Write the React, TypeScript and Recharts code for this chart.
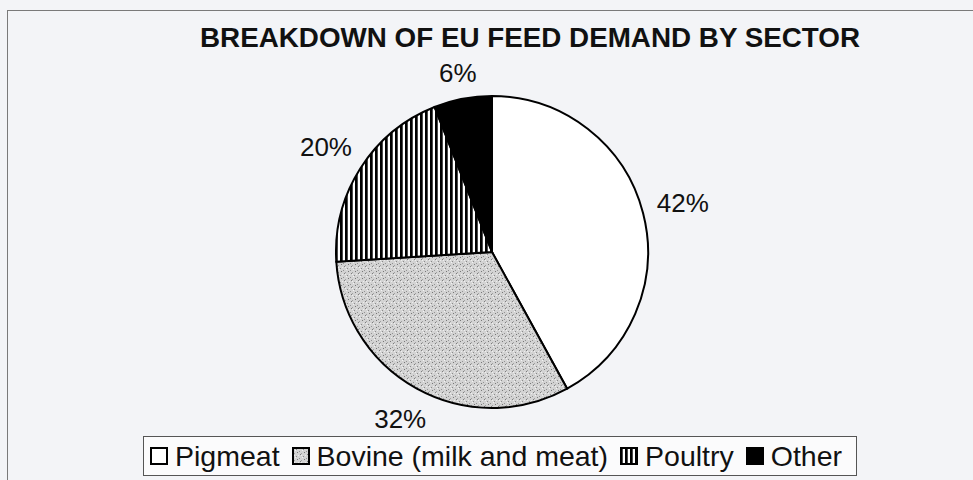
import React from 'react';
import { PieChart, Pie, Cell, Legend } from 'recharts';

// EU feed demand split by livestock sector (share of total, %)
const sectors = ['Pigmeat', 'Bovine (milk and meat)', 'Poultry', 'Other'];
const shares = [42, 32, 20, 6];
const sectorFills = ['#ffffff', 'url(#stipple)', 'url(#stripes)', '#000000'];

const chartTitle = 'BREAKDOWN OF EU FEED DEMAND BY SECTOR';

const data = sectors.map((name, i) => ({ name, value: shares[i] }));

const FONT = '"Liberation Sans", Arial, sans-serif';
const RADIAN = Math.PI / 180;
const PAPER = '#f3f4f7';

// Percent labels sit just outside the rim, pushed out by half the text box
const renderLabel = (props: any) => {
  const { cx, cy, midAngle, outerRadius, value } = props;
  const text = `${value}%`;
  const dx = Math.cos(-midAngle * RADIAN);
  const dy = Math.sin(-midAngle * RADIAN);
  const halfW = text.length * 8.8;
  const halfH = 10;
  const dist = outerRadius + 13 + Math.abs(dx) * halfW + Math.abs(dy) * halfH;
  const x = cx + dx * dist;
  const y = cy + dy * dist;
  return (
    <text
      x={x}
      y={y}
      textAnchor="middle"
      dominantBaseline="central"
      fontFamily={FONT}
      fontSize={26}
      fill="#111"
    >
      {text}
    </text>
  );
};

const Swatch = ({ fill }: { fill: string }) => (
  <svg width={18} height={18} style={{ display: 'block' }}>
    <rect x={1} y={1} width={16} height={16} fill={fill} stroke="#000" strokeWidth={2} />
  </svg>
);

const renderLegend = () => (
  <div
    style={{
      boxSizing: 'border-box',
      width: '100%',
      height: '100%',
      border: '1.5px solid #555',
      background: '#fbfbfc',
      display: 'flex',
      alignItems: 'center',
      paddingLeft: 6,
      fontFamily: FONT,
      fontSize: 28.5,
      color: '#111',
      whiteSpace: 'nowrap',
    }}
  >
    {sectors.map((name, i) => (
      <div key={name} style={{ display: 'flex', alignItems: 'center', marginRight: 12 }}>
        <Swatch fill={sectorFills[i]} />
        <span style={{ marginLeft: 7 }}>{name}</span>
      </div>
    ))}
  </div>
);

export default function App() {
  return (
    <div
      style={{
        position: 'fixed',
        left: 0,
        top: 0,
        width: 973,
        height: 480,
        background: PAPER,
        overflow: 'hidden',
      }}
    >
      {/* outer frame: only the top and left edges fall inside the page */}
      <div
        style={{
          position: 'absolute',
          left: 7,
          top: 10,
          width: 1000,
          height: 500,
          borderLeft: '1.5px solid #7a7a7a',
          borderTop: '1.5px solid #7a7a7a',
        }}
      />
      <div style={{ position: 'absolute', left: 0, top: 0 }}>
        <PieChart width={973} height={480} margin={{ top: 0, right: 0, bottom: 0, left: 0 }}>
          <defs>
            <pattern id="stripes" width={5} height={10} patternUnits="userSpaceOnUse">
              <rect width={5} height={10} fill="#ffffff" />
              <rect x={0} width={2.7} height={10} fill="#000000" />
            </pattern>
            <pattern id="stipple" width={7} height={7} patternUnits="userSpaceOnUse">
              <rect width={7} height={7} fill="#d3d3d3" />
              <rect x={1} y={0} width={1} height={1} fill="#7d7d7d" />
              <rect x={4} y={2} width={1} height={1} fill="#8a8a8a" />
              <rect x={0} y={4} width={1} height={1} fill="#939393" />
              <rect x={5} y={5} width={1} height={1} fill="#777777" />
              <rect x={2} y={6} width={1} height={1} fill="#a0a0a0" />
              <rect x={3} y={3} width={1} height={1} fill="#f2f2f2" />
              <rect x={6} y={1} width={1} height={1} fill="#ececec" />
              <rect x={2} y={1} width={1} height={1} fill="#efefef" />
            </pattern>
          </defs>
          <text
            x={530}
            y={47}
            textAnchor="middle"
            fontFamily={FONT}
            fontWeight="bold"
            fontSize={27}
            textLength={660}
            lengthAdjust="spacingAndGlyphs"
            fill="#111"
          >
            {chartTitle}
          </text>
          <Pie
            data={data}
            dataKey="value"
            nameKey="name"
            cx={492}
            cy={252}
            outerRadius={156}
            startAngle={90}
            endAngle={-270}
            stroke="#000"
            strokeWidth={2}
            label={renderLabel}
            labelLine={false}
            isAnimationActive={false}
          >
            {data.map((d, i) => (
              <Cell key={d.name} fill={sectorFills[i]} />
            ))}
          </Pie>
          <Legend
            content={renderLegend}
            wrapperStyle={{ position: 'absolute', left: 143, top: 436, width: 714, height: 40, bottom: 'auto' }}
          />
        </PieChart>
      </div>
    </div>
  );
}
